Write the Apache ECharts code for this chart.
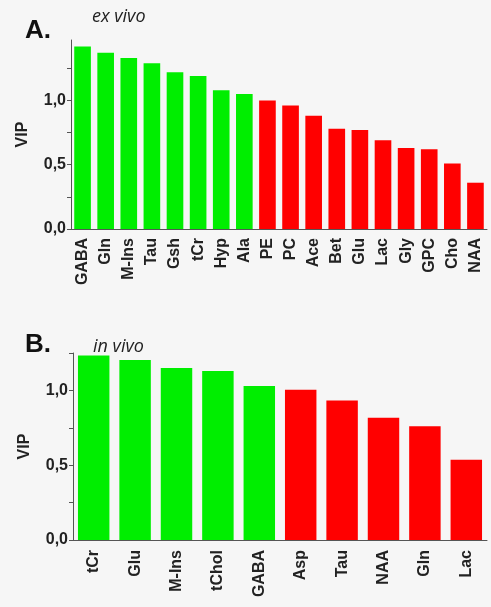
<!DOCTYPE html>
<html>
<head>
    <meta charset="utf-8">
    <title>VIP</title>
    <script src="https://cdn.jsdelivr.net/npm/echarts@6/dist/echarts.min.js"></script>
    <style>
        html, body { margin: 0; padding: 0; background: #f6f6f6; }
        #main { width: 491px; height: 607px; }
    </style>
</head>
<body>
<div id="main"></div>
<script type="text/javascript">
    // A. ex vivo
    var catsA = ['GABA', 'Gln', 'M-Ins', 'Tau', 'Gsh', 'tCr', 'Hyp', 'Ala', 'PE', 'PC',
                 'Ace', 'Bet', 'Glu', 'Lac', 'Gly', 'GPC', 'Cho', 'NAA'];
    var vipA = [1.42, 1.37, 1.33, 1.29, 1.22, 1.19, 1.08, 1.05, 1.00, 0.96,
                0.88, 0.78, 0.77, 0.69, 0.63, 0.62, 0.51, 0.36];
    var greenCountA = 8;

    // B. in vivo
    var catsB = ['tCr', 'Glu', 'M-Ins', 'tChol', 'GABA', 'Asp', 'Tau', 'NAA', 'Gln', 'Lac'];
    var vipB = [1.234, 1.203, 1.15, 1.13, 1.03, 1.005, 0.933, 0.817, 0.761, 0.536];
    var greenCountB = 5;

    var yLabels = [0, 0.5, 1.0];
    var yTicks = [0, 0.25, 0.5, 0.75, 1.0, 1.25];

    var GREEN = '#00ee00', RED = '#ff0000';
    var axisColor = '#555';
    var textColor = '#222';

    function barData(vals, nGreen) {
        return vals.map(function (v, i) {
            return { value: v, itemStyle: { color: i < nGreen ? GREEN : RED } };
        });
    }

    function xAxisOf(idx, cats, margin) {
        return {
            type: 'category', gridIndex: idx, data: cats,
            axisLine: { lineStyle: { color: axisColor, width: 1 } },
            axisTick: { alignWithLabel: true, length: 4, lineStyle: { color: axisColor } },
            axisLabel: {
                rotate: 90, margin: margin, interval: 0,
                color: textColor, fontSize: 16, fontWeight: 'bold',
                fontFamily: 'Liberation Sans'
            }
        };
    }

    function yAxisOf(idx, max) {
        return {
            type: 'value', gridIndex: idx, min: 0, max: max,
            name: 'VIP', nameLocation: 'middle', nameGap: 40, nameRotate: 90,
            nameTextStyle: { color: textColor, fontSize: 16, fontWeight: 'bold', fontFamily: 'Liberation Sans' },
            splitLine: { show: false },
            axisLine: { show: true, lineStyle: { color: axisColor, width: 1 } },
            axisTick: { show: true, length: 4, customValues: yTicks, lineStyle: { color: axisColor } },
            axisLabel: {
                customValues: yLabels, margin: 5,
                color: textColor, fontSize: 16, fontWeight: 'bold', fontFamily: 'Liberation Sans',
                formatter: function (v) { return v.toFixed(1).replace('.', ','); }
            }
        };
    }

    var myChart = echarts.init(document.getElementById('main'));

    var option = {
        backgroundColor: '#f6f6f6',
        animation: false,
        title: [
            { text: 'A.', left: 20, top: 13, textStyle: { fontSize: 26, fontWeight: 'bold', color: '#111', fontFamily: 'Liberation Sans' } },
            { text: 'ex vivo', left: 87, top: 3, textStyle: { fontSize: 18, fontStyle: 'italic', fontWeight: 'normal', color: '#222', fontFamily: 'Open Sans' } },
            { text: 'B.', left: 20, top: 327, textStyle: { fontSize: 26, fontWeight: 'bold', color: '#111', fontFamily: 'Liberation Sans' } },
            { text: 'in vivo', left: 88, top: 333, textStyle: { fontSize: 18, fontStyle: 'italic', fontWeight: 'normal', color: '#222', fontFamily: 'Open Sans' } }
        ],
        grid: [
            { left: 71, right: 4, top: 40, height: 189 },
            { left: 73, right: 4, top: 353, height: 187 }
        ],
        xAxis: [xAxisOf(0, catsA, 9), xAxisOf(1, catsB, 10)],
        yAxis: [yAxisOf(0, 1.47), yAxisOf(1, 1.25)],
        series: [
            { type: 'bar', xAxisIndex: 0, yAxisIndex: 0, barCategoryGap: '28%', data: barData(vipA, greenCountA) },
            { type: 'bar', xAxisIndex: 1, yAxisIndex: 1, barCategoryGap: '24%', data: barData(vipB, greenCountB) }
        ]
    };

    myChart.setOption(option);
</script>
</body>
</html>
